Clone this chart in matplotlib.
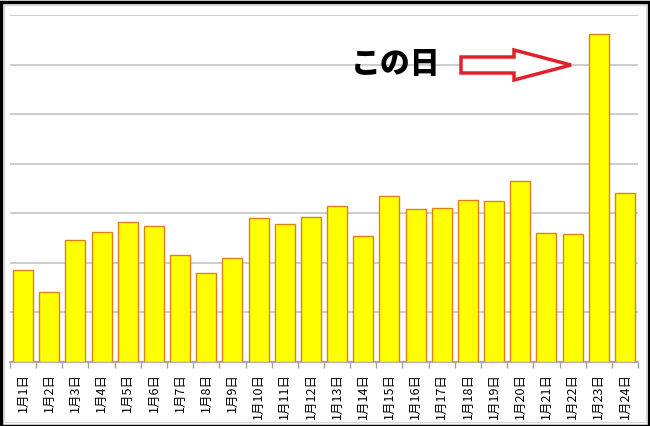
import matplotlib
matplotlib.use("Agg")
import matplotlib.pyplot as plt
from matplotlib.patches import Polygon, Rectangle
import numpy as np

plt.rcParams['font.family'] = ['Noto Sans CJK JP', 'DejaVu Sans']

categories = [f"1月{d}日" for d in range(1, 25)]
values = [186, 141, 247, 262, 282, 274, 216, 179, 210, 290, 278, 293,
          315, 254, 335, 308, 310, 327, 325, 365, 260, 258, 662, 341]
grid_ticks = [0, 100, 200, 300, 400, 500, 600, 700]
annotation_text = "この日"

W, H = 650, 426
fig = plt.figure(figsize=(W / 100, H / 100), dpi=100)
fig.patch.set_facecolor("white")

left, right, top, bottom = 10, 638, 15, 362
ax = fig.add_axes([left / W, (H - bottom) / H, (right - left) / W, (bottom - top) / H])

x = np.arange(len(categories))
ax.bar(x, values, width=0.76, color="#FFFF00", edgecolor="#E0801A", linewidth=1.0, zorder=3)

ax.set_xlim(-0.5, len(categories) - 0.5)
ax.set_ylim(0, 700)
ax.set_yticks(grid_ticks)
ax.set_yticklabels([])
ax.tick_params(axis="y", length=0)
ax.grid(axis="y", color="#C4C4C4", linewidth=1.2, zorder=0)

ax.set_xticks(x)
ax.set_xticklabels(categories, rotation=90, fontsize=9, va="top", ha="center")
ax.tick_params(axis="x", which="major", length=0, pad=8)
ax.set_xticks(np.arange(-0.5, len(categories) + 0.5, 1), minor=True)
ax.tick_params(axis="x", which="minor", length=4, color="#A0A0A0", width=1)

for s in ["top", "right", "left"]:
    ax.spines[s].set_visible(False)
ax.spines["bottom"].set_color("#A0A0A0")
ax.spines["bottom"].set_linewidth(1.2)
ax.set_facecolor("white")

# annotation text
fig.text(396 / W, 1 - 63 / H, annotation_text, fontsize=21.5, fontweight="black",
         ha="center", va="center", color="black")

# hollow arrow (pixel coordinates -> figure fraction)
pts_px = [(461, 57), (514, 57), (514, 50), (571, 65), (514, 80), (514, 73), (461, 73)]
pts = [(px / W, 1 - py / H) for px, py in pts_px]
fig.patches.append(Polygon(pts, closed=True, facecolor="white", edgecolor="#E0202A",
                           linewidth=2.5, transform=fig.transFigure, figure=fig))

# outer frame
fig.patches.append(Rectangle((0.5 / W, 0.5 / H), 1 - 2 / W, 1 - 2 / H, fill=False,
                             edgecolor="black", linewidth=2.5, transform=fig.transFigure, figure=fig))
fig.patches.append(Rectangle((4 / W, 4 / H), 1 - 8 / W, 1 - 9 / H, fill=False,
                             edgecolor="#D8D8D8", linewidth=1.0, transform=fig.transFigure, figure=fig))

fig.savefig("out.png", dpi=100)
